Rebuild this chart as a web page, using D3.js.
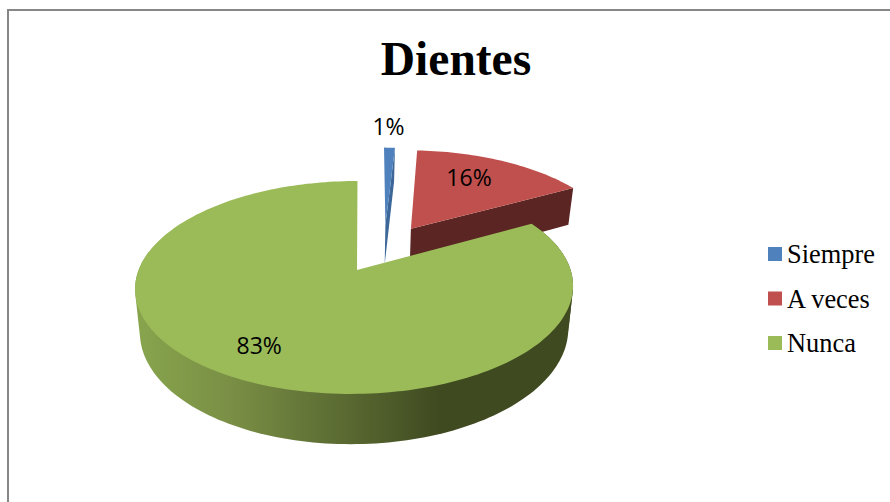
<!DOCTYPE html>
<html>
<head>
<meta charset="utf-8">
<script src="https://cdnjs.cloudflare.com/ajax/libs/d3/7.8.5/d3.min.js"></script>
<style>
    html, body { margin: 0; padding: 0; background: #fff; }
    svg { display: block; }
</style>
</head>
<body>
<svg id="chart" width="890" height="502"></svg>
<script>
// Chart data
const categories = ['Siempre', 'A veces', 'Nunca'];
const percents = [1, 16, 83];
const title = 'Dientes';

const topColors = ['#4f81bd', '#c0504d', '#9bbb59'];
const wallColors = ['#3c6798', '#5a2523', '#3f4a20'];

const svg = d3.select('#chart');
const width = 890, height = 502;

// Frame, open on the right and at the bottom
svg.append('path')
    .attr('d', `M8,${height}V10H${width}`)
    .attr('fill', 'none')
    .attr('stroke', '#878787')
    .attr('stroke-width', 2);

svg.append('text')
    .attr('x', 456)
    .attr('y', 75)
    .attr('text-anchor', 'middle')
    .attr('font-family', '"Liberation Serif", serif')
    .attr('font-weight', 'bold')
    .attr('font-size', 47.5)
    .attr('fill', '#000')
    .text(title);

// Perspective projection of the pie plane, measured from the point of the big slice
const originX = 357, originY = 270, vanishX = 375;
const scaleX = 216, scaleY = 103.6, tilt = 0.164, depth = 42, bottomShrink = 0.978;

function project(u, v, lower) {
    const w = 1 - tilt * u;
    let x = vanishX + (originX - vanishX + scaleX * v) / w,
        y = originY + scaleY * u / w;
    if (lower) {
        x = 354 + (x - 354) * bottomShrink;
        y += depth / w;
    }
    return [x, y];
}

const pie = d3.pie().sort(null).value((d) => d)(percents);
const line = d3.line();

// Every slice is pushed away from the common centre along its middle angle
const explode = 0.25;
const big = (pie[2].startAngle + pie[2].endAngle) / 2;
const centre = { u: explode * Math.cos(big), v: -explode * Math.sin(big) };

// Sideways correction of the rim, the big disc sits a little left of its point
const rimShift = [0, 0, -0.011];

function slicePoint(s, a, r, lower) {
    const mid = (s.startAngle + s.endAngle) / 2,
        u = centre.u - explode * Math.cos(mid) - r * Math.cos(a),
        v = centre.v + explode * Math.sin(mid) + r * (Math.sin(a) + rimShift[s.index]);
    return project(u, v, lower);
}

function rim(s, lower, from, to) {
    const a0 = from === undefined ? s.startAngle : from,
        a1 = to === undefined ? s.endAngle : to,
        n = Math.max(2, Math.ceil((a1 - a0) * 40));
    return d3.range(n + 1).map((i) => slicePoint(s, a0 + (a1 - a0) * i / n, 1, lower));
}

// Shading of the curved side of the big slice
const gradient = svg.append('defs').append('linearGradient')
    .attr('id', 'sideShade')
    .attr('gradientUnits', 'userSpaceOnUse')
    .attr('x1', 140).attr('x2', 440)
    .attr('y1', 0).attr('y2', 0);
gradient.append('stop').attr('offset', 0).attr('stop-color', '#87a44d');
gradient.append('stop').attr('offset', 0.3).attr('stop-color', '#7a8f45');
gradient.append('stop').attr('offset', 0.62).attr('stop-color', '#5f7035');
gradient.append('stop').attr('offset', 1).attr('stop-color', '#3f4a20');

const slices = svg.append('g').selectAll('g').data(pie).join('g');

// Flat side along the cut edge, only seen on the two small slices
slices.filter((d) => d.index < 2).append('path')
    .attr('d', (d) => line([
        slicePoint(d, d.endAngle, 0, false),
        slicePoint(d, d.endAngle, 1, false),
        slicePoint(d, d.endAngle, 1, true),
        slicePoint(d, d.endAngle, 0, true)
    ]) + 'Z')
    .attr('fill', (d) => wallColors[d.index]);

// Curved side: the band from the cut edge, and the hull of the front part for straight silhouettes
const frontFrom = 100 * Math.PI / 180, frontTo = 280 * Math.PI / 180;
const curved = slices.filter((d) => d.index === 2);
curved.append('path')
    .attr('d', (d) => line(rim(d, false, d.startAngle, frontFrom).concat(rim(d, true, d.startAngle, frontFrom).reverse())) + 'Z')
    .attr('fill', 'url(#sideShade)');
curved.append('path')
    .attr('d', (d) => line(d3.polygonHull(rim(d, false, frontFrom, frontTo).concat(rim(d, true, frontFrom, frontTo)))) + 'Z')
    .attr('fill', 'url(#sideShade)');

// Top face
slices.append('path')
    .attr('d', (d) => line([slicePoint(d, d.startAngle, 0, false)].concat(rim(d, false))) + 'Z')
    .attr('fill', (d) => topColors[d.index]);

// Data labels
const labelRadius = [1.32, 0.695, 0.76];
const labelAlong = [0.35, 0.432, 0.5];
function labelPoint(d) {
    const a = d.startAngle + (d.endAngle - d.startAngle) * labelAlong[d.index];
    return slicePoint(d, a, labelRadius[d.index], false);
}
svg.append('g').selectAll('text').data(pie).join('text')
    .attr('x', (d) => labelPoint(d)[0])
    .attr('y', (d) => labelPoint(d)[1])
    .attr('dy', '0.36em')
    .attr('text-anchor', 'middle')
    .attr('font-family', '"Open Sans", sans-serif')
    .attr('font-size', 23)
    .attr('fill', '#000')
    .text((d) => d.data + '%');

// Legend
const legendY = d3.scalePoint().domain(categories).range([254, 343]);
const legend = svg.append('g').selectAll('g').data(categories).join('g')
    .attr('transform', (d) => `translate(768,${legendY(d)})`);
legend.append('rect')
    .attr('y', -7)
    .attr('width', 14)
    .attr('height', 14)
    .attr('fill', (d, i) => topColors[i]);
legend.append('text')
    .attr('x', 19)
    .attr('y', 9)
    .attr('font-family', '"Liberation Serif", serif')
    .attr('font-size', 26.4)
    .attr('fill', '#000')
    .text((d) => d);
</script>
</body>
</html>
